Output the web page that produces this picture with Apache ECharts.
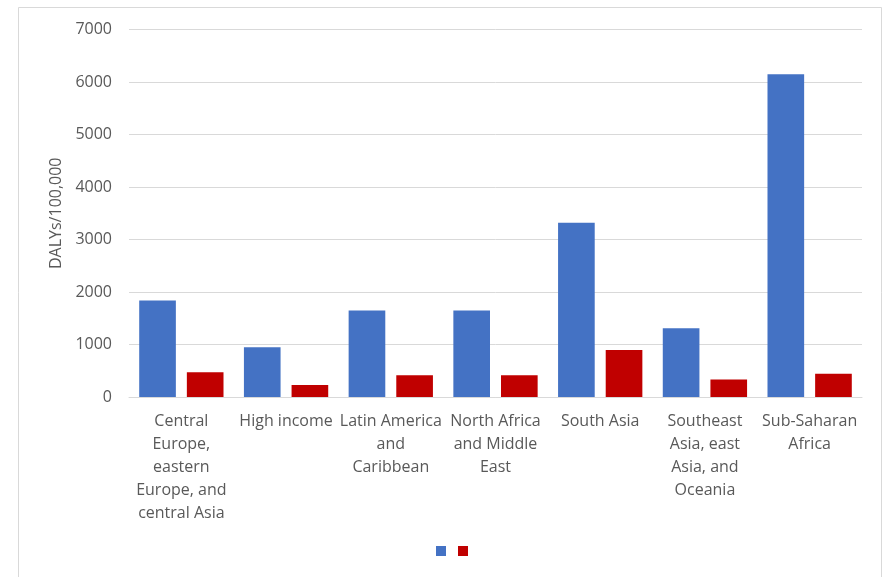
<!DOCTYPE html>
<html>
<head>
<meta charset="utf-8">
<script src="https://cdn.jsdelivr.net/npm/echarts@6/dist/echarts.min.js"></script>
<style>
  html, body { margin: 0; padding: 0; background: #fff; }
  #chart { width: 883px; height: 577px; }
</style>
</head>
<body>
<div id="chart"></div>
<script>
// Region tick labels, pre-wrapped onto lines
const categories = [
  'Central\nEurope,\neastern\nEurope, and\ncentral Asia',
  'High income',
  'Latin America\nand\nCaribbean',
  'North Africa\nand Middle\nEast',
  'South Asia',
  'Southeast\nAsia, east\nAsia, and\nOceania',
  'Sub-Saharan\nAfrica'
];

// DALYs per 100,000 by region
const seriesA = [1840, 950, 1650, 1650, 3320, 1310, 6150];
const seriesB = [470, 230, 415, 415, 895, 335, 442];

const yTicks = { min: 0, max: 7000, interval: 1000 };

const textColor = '#595959';
const font = 'Open Sans';

const chart = echarts.init(document.getElementById('chart'), null, { renderer: 'canvas' });

chart.setOption({
  animation: false,
  backgroundColor: '#fff',
  graphic: [{
    type: 'rect',
    shape: { x: 18.5, y: 7.5, width: 863, height: 600 },
    style: { fill: 'none', stroke: '#d9d9d9', lineWidth: 1 },
    silent: true,
    z: -1
  }],
  grid: { left: 129, right: 21, top: 29.5, bottom: 180 },
  legend: {
    data: ['A', 'B'],
    bottom: 21,
    left: 436,
    padding: 0,
    itemWidth: 10,
    itemHeight: 10,
    itemGap: 12,
    icon: 'rect',
    formatter: () => '',
    textStyle: { fontSize: 1 }
  },
  xAxis: {
    type: 'category',
    data: categories,
    axisLine: { lineStyle: { color: '#d9d9d9', width: 1 } },
    axisTick: { show: false },
    axisLabel: {
      interval: 0,
      color: textColor,
      fontFamily: font,
      fontSize: 16,
      lineHeight: 23,
      margin: 13,
      align: 'center'
    }
  },
  yAxis: {
    type: 'value',
    min: yTicks.min,
    max: yTicks.max,
    interval: yTicks.interval,
    name: 'DALYs/100,000',
    nameLocation: 'middle',
    nameGap: 58,
    nameTextStyle: { color: textColor, fontFamily: font, fontSize: 16 },
    axisLine: { show: false },
    axisTick: { show: false },
    axisLabel: {
      color: textColor,
      fontFamily: font,
      fontSize: 16,
      margin: 17,
      formatter: (v) => String(v)
    },
    splitLine: { lineStyle: { color: '#d9d9d9', width: 1 } }
  },
  series: [
    {
      name: 'A',
      type: 'bar',
      data: seriesA,
      barWidth: '35%',
      barGap: '30%',
      itemStyle: { color: '#4472C4' }
    },
    {
      name: 'B',
      type: 'bar',
      data: seriesB,
      barWidth: '35%',
      itemStyle: { color: '#C00000' }
    }
  ]
});
</script>
</body>
</html>
